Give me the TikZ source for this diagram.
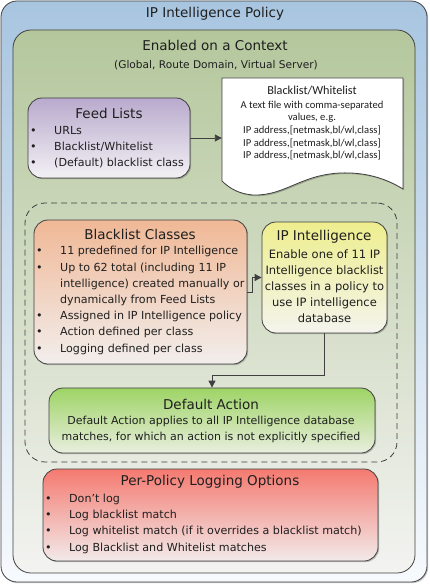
\documentclass[tikz,border=0pt]{standalone}
\usepackage{fontspec}
\setmainfont{DejaVu Sans}
\newfontfamily\docfont{Carlito}
\usetikzlibrary{arrows.meta,shadows}
\definecolor{linec}{HTML}{404040}
\definecolor{outertop}{HTML}{A8C5E0}
\definecolor{outerbot}{HTML}{F7FAFD}
\definecolor{greentop}{HTML}{B4C79C}
\definecolor{greenbot}{HTML}{F3F3F1}
\definecolor{feedtop}{HTML}{B9AACD}
\definecolor{feedbot}{HTML}{F3F1F5}
\definecolor{bltop}{HTML}{F0B896}
\definecolor{blbot}{HTML}{F2EEEC}
\definecolor{ipitop}{HTML}{EEEE8E}
\definecolor{ipibot}{HTML}{F4F4EE}
\definecolor{deftop}{HTML}{9ED465}
\definecolor{defbot}{HTML}{E9EEDF}
\definecolor{logtop}{HTML}{F47A70}
\definecolor{logbot}{HTML}{F2EAEA}
\newcommand{\bul}[2]{\makebox[#1pt][l]{\textbullet}#2}
\newcommand{\cont}[2]{\makebox[#1pt][l]{}#2}
\tikzset{
  box/.style={draw=linec, line width=0.8pt, rounded corners=14pt, inner sep=0pt, shading angle=0},
  shd/.style={drop shadow={shadow xshift=1.2pt, shadow yshift=-1.2pt, opacity=0.22, fill=black}},
  ttl/.style={inner sep=0pt, font=\fontsize{13.5}{16}\selectfont, text=black!88},
  body/.style={inner sep=0pt, font=\fontsize{11.1}{16.2}\selectfont, text=black!88},
  arr/.style={draw=linec, line width=0.9pt, -{Triangle[length=7pt,width=7pt]}},
}
\begin{document}
\begin{tikzpicture}[x=1pt,y=-1pt]
\useasboundingbox (0,0) rectangle (429,585);
% outer
\node[box, shd, rounded corners=16pt, top color=outertop, bottom color=outerbot, minimum width=426pt, minimum height=581pt] (outer) at (214,291.5) {};
\node[ttl] (tOuter) at (215,14) {IP Intelligence Policy};
% inner green
\node[box, rounded corners=18pt, top color=greentop, bottom color=greenbot, minimum width=402pt, minimum height=543pt] (inner) at (214,301.5) {};
\node[ttl] (tInner) at (215,45) {Enabled on a Context};
\node[inner sep=0pt, font=\fontsize{10.6}{12}\selectfont, text=black!88] (tInner2) at (216,65) {(Global, Route Domain, Virtual Server)};
% document shape
\draw[draw=linec, line width=0.8pt, fill=white, shd] (222,78) -- (403,78) -- (403,189)
  .. controls (385,178) and (365,172) .. (340,173)
  .. controls (300,175) and (285,196) .. (253,195)
  .. controls (240,194) and (230,189) .. (222,181) -- cycle;
\node[inner sep=0pt, minimum width=181pt, minimum height=103pt] (doc) at (312.5,129.5) {};
\node[inner sep=0pt, font=\docfont\fontsize{12.2}{14}\selectfont, text=black!88] (tDoc) at (312,91) {Blacklist/Whitelist};
\node[inner sep=0pt, align=center, font=\docfont\fontsize{10.6}{12.6}\selectfont, text=black!88] (tDoc2) at (312,130.5)
  {A text file with comma-separated\\values, e.g.\\IP address,[netmask,bl/wl,class]\\IP address,[netmask,bl/wl,class]\\IP address,[netmask,bl/wl,class]};
% feed lists
\node[box, shd, top color=feedtop, bottom color=feedbot, minimum width=162pt, minimum height=80pt] (feed) at (109,138) {};
\node[ttl] (tFeed) at (109,113) {Feed Lists};
\node[body, align=left, anchor=west] (tFeed2) at (30,147)
  {\bul{24}{URLs}\\\bul{24}{Blacklist/Whitelist}\\\bul{24}{(Default) blacklist class}};
% dashed group
\node[draw=linec, line width=0.8pt, dash pattern=on 6pt off 4pt, rounded corners=20pt, inner sep=0pt, minimum width=372pt, minimum height=259pt] (grp) at (211,332.5) {};
% blacklist classes
\node[box, shd, top color=bltop, bottom color=blbot, minimum width=213pt, minimum height=144pt] (bl) at (140.5,292) {};
\node[ttl] (tBl) at (140,234) {Blacklist Classes};
\node[body, align=left, anchor=west] (tBl2) at (36,300.5)
  {\bul{24}{11 predefined for IP Intelligence}\\\bul{24}{Up to 62 total (including 11 IP}\\\cont{24}{intelligence) created manually or}\\\cont{24}{dynamically from Feed Lists}\\\bul{24}{Assigned in IP Intelligence policy}\\\bul{24}{Action defined per class}\\\bul{24}{Logging defined per class}};
% IP intelligence
\node[box, shd, top color=ipitop, bottom color=ipibot, minimum width=125pt, minimum height=111pt] (ipi) at (324.5,277.5) {};
\node[ttl] (tIpi) at (324,237) {IP Intelligence};
\node[body, align=center, font=\fontsize{11.5}{16}\selectfont] (tIpi2) at (324.5,286)
  {Enable one of 11 IP\\Intelligence blacklist\\classes in a policy to\\use IP intelligence\\database};
% default action
\node[box, shd, top color=deftop, bottom color=defbot, minimum width=326pt, minimum height=65pt] (def) at (212,420.5) {};
\node[ttl] (tDef) at (211,404) {Default Action};
\node[body, align=center, font=\fontsize{11}{16}\selectfont] (tDef2) at (211,429)
  {Default Action applies to all IP Intelligence database\\matches, for which an action is not explicitly specified};
% logging
\node[box, shd, top color=logtop, bottom color=logbot, minimum width=335pt, minimum height=92pt] (log) at (210.5,515) {};
\node[ttl] (tLog) at (210,482) {Per-Policy Logging Options};
\node[body, align=left, anchor=west, font=\fontsize{11.1}{16.3}\selectfont] (tLog2) at (45,523.5)
  {\bul{24}{Don’t log}\\\bul{24}{Log blacklist match}\\\bul{24}{Log whitelist match (if it overrides a blacklist match)}\\\bul{24}{Log Blacklist and Whitelist matches}};
% connectors
\draw[arr] (feed.east) -- (feed.east -| doc.west);
\draw[arr] (bl.east) -- ++(5,0) |- (ipi.west);
\draw[arr] (ipi.south) -- ++(0,42) -| (def.north);
\end{tikzpicture}
\end{document}
